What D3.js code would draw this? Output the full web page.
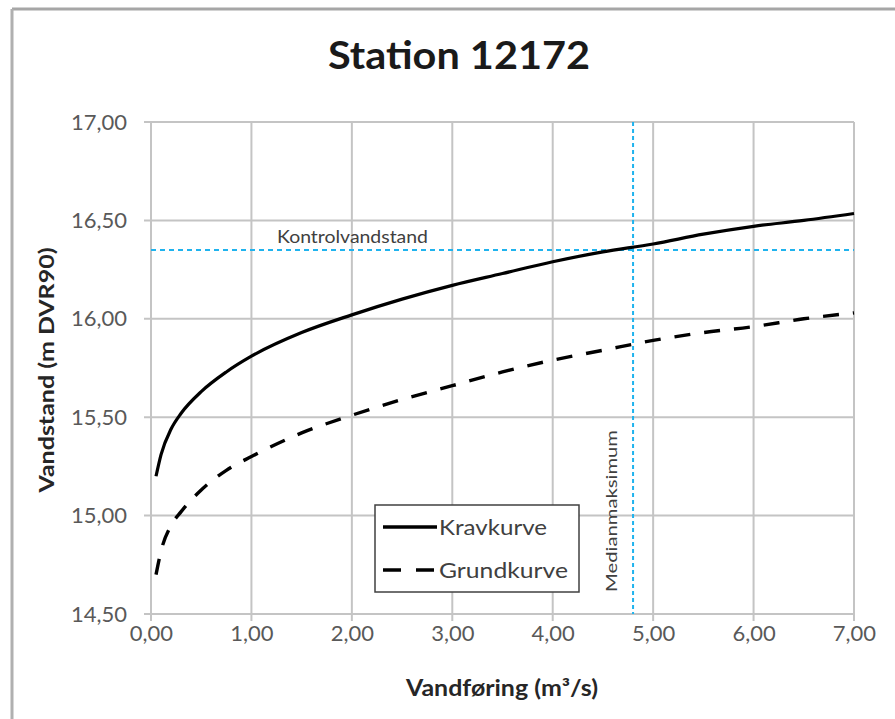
<!DOCTYPE html>
<html><head><meta charset="utf-8">
<script src="https://cdn.jsdelivr.net/npm/d3@7"></script>
<style>body{margin:0;background:#fff}svg{display:block}text{font-family:Lato,"Open Sans",sans-serif}</style>
</head><body>
<svg id="c" width="895" height="719"></svg>
<script>
const title = "Station 12172";
const xLabel = "Vandføring (m³/s)";
const yLabel = "Vandstand (m DVR90)";
const flow = [0.05, 0.1, 0.2, 0.3, 0.5, 0.75, 1.0, 1.5, 2.0, 2.5, 3.0, 3.5, 4.0, 4.5, 5.0, 5.5, 6.0, 6.5, 7.0];
const kravkurve = [15.20, 15.31, 15.44, 15.52, 15.63, 15.73, 15.81, 15.93, 16.02, 16.10, 16.17, 16.23, 16.29, 16.34, 16.38, 16.43, 16.47, 16.50, 16.535];
const grundkurve = [14.70, 14.82, 14.95, 15.02, 15.13, 15.23, 15.30, 15.42, 15.51, 15.59, 15.66, 15.73, 15.79, 15.84, 15.89, 15.93, 15.96, 16.00, 16.03];
const seriesNames = ["Kravkurve", "Grundkurve"];
const xTicks = [0, 1, 2, 3, 4, 5, 6, 7];
const yTicks = [14.5, 15, 15.5, 16, 16.5, 17];
const kontrolvandstand = 16.35;
const kontrolLabel = "Kontrolvandstand";
const medianmaksimum = 4.8;
const medianLabel = "Medianmaksimum";

const svg = d3.select("#c");
const L = 151, R = 854, T = 122, B = 614;
const x = d3.scaleLinear().domain([0, 7]).range([L, R]);
const y = d3.scaleLinear().domain([14.5, 17]).range([B, T]);
const fmt = v => d3.format(".2f")(v).replace(".", ",");

// outer frame (top + left)
svg.append("line").attr("x1", 12).attr("x2", 895).attr("y1", 9).attr("y2", 9).attr("stroke", "#a6a6a6").attr("stroke-width", 3);
svg.append("line").attr("x1", 12).attr("x2", 12).attr("y1", 9).attr("y2", 719).attr("stroke", "#b0b0b0").attr("stroke-width", 3);

svg.append("text").attr("x", 459).attr("y", 69).attr("text-anchor", "middle")
  .attr("font-size", 39).attr("font-weight", "bold").attr("fill", "#1a1a1a")
  .attr("textLength", 262).attr("lengthAdjust", "spacingAndGlyphs").text(title);

// grid
const g = svg.append("g");
g.selectAll(".gy").data(yTicks).join("line")
  .attr("x1", L - 7).attr("x2", R).attr("y1", d => y(d)).attr("y2", d => y(d))
  .attr("stroke", "#c4c4c4").attr("stroke-width", 2);
g.selectAll(".gx").data(xTicks).join("line")
  .attr("x1", d => x(d)).attr("x2", d => x(d)).attr("y1", T).attr("y2", B + 7)
  .attr("stroke", "#c4c4c4").attr("stroke-width", 2);

// axes labels via d3 axes
const ax = svg.append("g").attr("transform", `translate(0,${B})`)
  .call(d3.axisBottom(x).tickValues(xTicks).tickFormat(fmt).tickSize(0).tickPadding(11));
ax.select(".domain").remove();
ax.selectAll("text").attr("font-size", 22).attr("fill", "#595959").attr("font-family", "Lato");
const ay = svg.append("g").attr("transform", `translate(${L},0)`)
  .call(d3.axisLeft(y).tickValues(yTicks).tickFormat(fmt).tickSize(0).tickPadding(24));
ay.select(".domain").remove();
ay.selectAll("text").attr("font-size", 22).attr("fill", "#595959").attr("font-family", "Lato");

svg.append("text").attr("x", 502).attr("y", 696).attr("text-anchor", "middle")
  .attr("font-size", 22).attr("font-weight", "bold").attr("fill", "#262626")
  .attr("textLength", 192).attr("lengthAdjust", "spacingAndGlyphs").text(xLabel);
svg.append("text").attr("transform", "translate(54,370) rotate(-90)").attr("text-anchor", "middle")
  .attr("font-size", 21).attr("font-weight", "bold").attr("fill", "#262626")
  .attr("textLength", 245).attr("lengthAdjust", "spacingAndGlyphs").text(yLabel);

// reference lines
svg.append("line").attr("x1", L).attr("x2", R).attr("y1", y(kontrolvandstand)).attr("y2", y(kontrolvandstand))
  .attr("stroke", "#1fb3ee").attr("stroke-width", 2).attr("stroke-dasharray", "5,4");
svg.append("line").attr("x1", x(medianmaksimum)).attr("x2", x(medianmaksimum)).attr("y1", T).attr("y2", B)
  .attr("stroke", "#1fb3ee").attr("stroke-width", 2).attr("stroke-dasharray", "4,3");
svg.append("text").attr("x", 277).attr("y", 243).attr("font-size", 17).attr("fill", "#404040")
  .attr("textLength", 151).attr("lengthAdjust", "spacingAndGlyphs").text(kontrolLabel);
svg.append("text").attr("transform", `translate(${x(medianmaksimum) - 22},511) rotate(-90)`).attr("text-anchor", "middle")
  .attr("dy", "0.35em").attr("font-size", 16).attr("fill", "#404040")
  .attr("textLength", 162).attr("lengthAdjust", "spacingAndGlyphs").text(medianLabel);

// curves
const line = d3.line().x(d => x(d[0])).y(d => y(d[1])).curve(d3.curveMonotoneX);
svg.append("path").datum(flow.map((f, i) => [f, kravkurve[i]])).attr("d", line)
  .attr("fill", "none").attr("stroke", "#000").attr("stroke-width", 3.2);
svg.append("path").datum(flow.map((f, i) => [f, grundkurve[i]])).attr("d", line)
  .attr("fill", "none").attr("stroke", "#000").attr("stroke-width", 3.4).attr("stroke-dasharray", "16,14");

// legend
const lg = svg.append("g");
lg.append("rect").attr("x", 375).attr("y", 505).attr("width", 204).attr("height", 87)
  .attr("fill", "#fff").attr("stroke", "#404040").attr("stroke-width", 1.5);
const dashes = [null, "18,15"];
const lens = [108, 129];
seriesNames.forEach((n, i) => {
  const yy = 527 + i * 43;
  lg.append("line").attr("x1", 383).attr("x2", 437).attr("y1", yy).attr("y2", yy)
    .attr("stroke", "#000").attr("stroke-width", 3.4).attr("stroke-dasharray", dashes[i]);
  lg.append("text").attr("x", 439).attr("y", yy).attr("dy", "0.35em").attr("font-size", 22)
    .attr("fill", "#404040").attr("textLength", lens[i]).attr("lengthAdjust", "spacingAndGlyphs").text(n);
});
</script>
</body></html>
